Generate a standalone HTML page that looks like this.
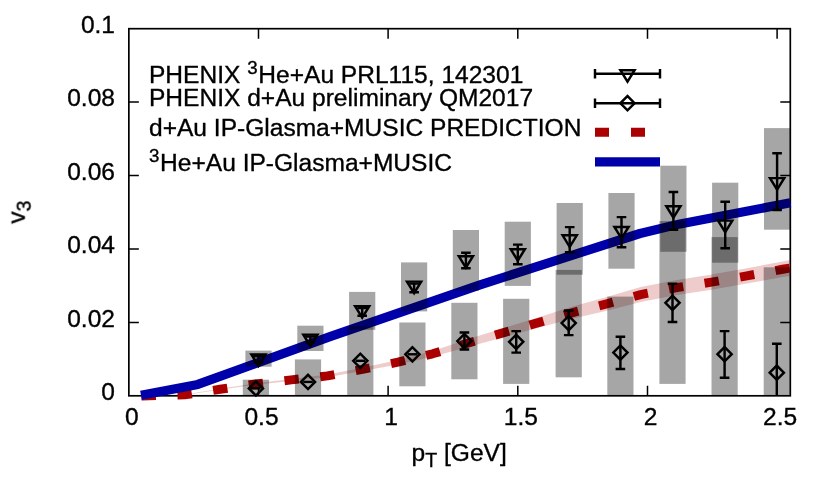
<!DOCTYPE html>
<html><head><meta charset="utf-8"><title>v3 vs pT</title>
<style>html,body{margin:0;padding:0;background:#fff}svg{display:block;will-change:transform}text{font-family:"Liberation Sans",sans-serif;fill:#000}</style></head>
<body>
<svg width="830" height="498" viewBox="0 0 830 498">
<rect width="830" height="498" fill="#fff"/>
<defs><clipPath id="c"><rect x="128.85" y="28.7" width="661.4499999999999" height="367.1"/></clipPath></defs>
<g stroke="#000" stroke-width="1.7" fill="none" stroke-linecap="butt">
<rect x="128.85" y="28.7" width="661.45" height="367.10"/>
<path stroke-width="1.5" d="M258.5,395.8 v-10 M258.5,28.7 v10 M388.1,395.8 v-10 M388.1,28.7 v10 M517.8,395.8 v-10 M517.8,28.7 v10 M647.5,395.8 v-10 M647.5,28.7 v10 M777.1,395.8 v-10 M777.1,28.7 v10 M128.85,322.4 h10 M790.3,322.4 h-10 M128.85,249.0 h10 M790.3,249.0 h-10 M128.85,175.5 h10 M790.3,175.5 h-10 M128.85,102.1 h10 M790.3,102.1 h-10"/>
</g>
<path d="M141.5,395.9 L184.6,394.5 L220.0,388.8 L255.6,383.3 L291.2,378.9 L327.4,374.6 L362.5,367.7 L398.0,360.0 L432.6,350.9 L467.7,339.3 L502.1,328.5 L536.6,317.9 L570.0,307.3 L605.8,297.3 L640.7,287.1 L675.5,280.3 L711.6,274.5 L746.8,268.2 L782.6,261.5 L790.3,260.1 L790.3,275.9 L782.6,277.1 L746.8,283.6 L711.6,289.7 L675.5,295.3 L640.7,302.1 L605.8,311.1 L570.0,319.3 L536.6,328.3 L502.1,337.7 L467.7,347.1 L432.6,356.7 L398.0,364.4 L362.5,370.9 L327.4,377.2 L291.2,380.9 L255.6,384.7 L220.0,389.8 L184.6,395.1 L141.5,396.1Z" fill="#aa0000" fill-opacity="0.2"/>
<path d="M141.5,396.0 L184.6,394.8 L220.0,389.3 L255.6,384.0 L291.2,379.9 L327.4,375.9 L362.5,369.3 L398.0,362.2 L432.6,353.8 L467.7,343.2 L502.1,333.1 L536.6,323.1 L570.0,313.3 L605.8,304.2 L640.7,294.6 L675.5,287.8 L711.6,282.1 L746.8,275.9 L782.6,269.3 L790.3,268.0" fill="none" stroke="#aa0000" stroke-width="9" stroke-dasharray="14.4 21.6" stroke-linejoin="round"/>
<path d="M141.0,395.3 L197.8,384.4 L330.0,336.7 L480.0,284.9 L640.0,233.5 L680.0,223.9 L790.4,202.8" fill="none" stroke="#0000aa" stroke-width="9.2" stroke-linejoin="round"/>
<g clip-path="url(#c)" fill="#000" fill-opacity="0.35">
<rect x="245.4" y="350.6" width="26.2" height="16.1"/>
<rect x="297.3" y="325.7" width="26.2" height="25.3"/>
<rect x="349.1" y="291.9" width="26.2" height="37.9"/>
<rect x="401.0" y="262.4" width="26.2" height="49.0"/>
<rect x="452.8" y="230.0" width="26.2" height="60.7"/>
<rect x="504.7" y="221.7" width="26.2" height="64.2"/>
<rect x="556.6" y="203.0" width="26.2" height="71.7"/>
<rect x="608.4" y="193.0" width="26.2" height="75.7"/>
<rect x="660.3" y="165.7" width="26.2" height="86.1"/>
<rect x="712.1" y="182.7" width="26.2" height="80.0"/>
<rect x="764.0" y="128.1" width="26.2" height="101.6"/>
<rect x="242.8" y="379.7" width="26.2" height="20.3"/>
<rect x="294.9" y="359.4" width="26.2" height="40.6"/>
<rect x="347.2" y="326.5" width="26.2" height="73.5"/>
<rect x="399.3" y="322.5" width="26.2" height="63.8"/>
<rect x="451.3" y="302.8" width="26.2" height="76.5"/>
<rect x="503.1" y="298.8" width="26.2" height="85.1"/>
<rect x="555.6" y="269.9" width="26.2" height="107.4"/>
<rect x="607.3" y="296.6" width="26.2" height="103.4"/>
<rect x="659.4" y="221.1" width="26.2" height="162.8"/>
<rect x="711.5" y="237.1" width="26.2" height="162.9"/>
<rect x="763.7" y="267.3" width="26.2" height="132.7"/>
</g>
<g stroke="#000" stroke-width="2.45" fill="none" stroke-linejoin="miter" stroke-miterlimit="10">
<g clip-path="url(#c)">
<path d="M258.5,356.3 V362.2 M253.7,356.3 H263.3 M253.7,362.2 H263.3"/>
<path d="M310.4,336.5 V342.3 M305.6,336.5 H315.2 M305.6,342.3 H315.2"/>
<path d="M362.2,307.9 V315.8 M357.4,307.9 H367.0 M357.4,315.8 H367.0"/>
<path d="M414.1,283.6 V292.3 M409.3,283.6 H418.9 M409.3,292.3 H418.9"/>
<path d="M465.9,252.7 V268.2 M461.1,252.7 H470.7 M461.1,268.2 H470.7"/>
<path d="M517.8,244.6 V264.3 M513.0,244.6 H522.6 M513.0,264.3 H522.6"/>
<path d="M569.7,227.1 V252.2 M564.9,227.1 H574.5 M564.9,252.2 H574.5"/>
<path d="M621.5,217.1 V247.2 M616.7,217.1 H626.3 M616.7,247.2 H626.3"/>
<path d="M673.4,191.9 V229.7 M668.6,191.9 H678.2 M668.6,229.7 H678.2"/>
<path d="M725.2,201.8 V248.2 M720.4,201.8 H730.0 M720.4,248.2 H730.0"/>
<path d="M777.1,153.2 V210.0 M772.3,153.2 H781.9 M772.3,210.0 H781.9"/>




<path d="M464.4,332.4 V349.5 M459.6,332.4 H469.2 M459.6,349.5 H469.2"/>
<path d="M516.2,331.1 V352.6 M511.4,331.1 H521.0 M511.4,352.6 H521.0"/>
<path d="M568.7,310.4 V335.1 M563.9,310.4 H573.5 M563.9,335.1 H573.5"/>
<path d="M620.4,336.7 V368.9 M615.6,336.7 H625.2 M615.6,368.9 H625.2"/>
<path d="M672.5,283.7 V322.0 M667.7,283.7 H677.3 M667.7,322.0 H677.3"/>
<path d="M724.6,331.1 V377.7 M719.8,331.1 H729.4 M719.8,377.7 H729.4"/>
<path d="M776.8,343.8 V402.0 M772.0,343.8 H781.6 M772.0,402.0 H781.6"/>
</g>
<path d="M251.4,354.4 L265.6,354.4 L258.5,366.0Z"/>
<path d="M303.3,334.6 L317.5,334.6 L310.4,346.2Z"/>
<path d="M355.1,306.1 L369.3,306.1 L362.2,317.6Z"/>
<path d="M407.0,281.6 L421.2,281.6 L414.1,293.2Z"/>
<path d="M458.8,256.2 L473.0,256.2 L465.9,267.7Z"/>
<path d="M510.7,249.2 L524.9,249.2 L517.8,260.7Z"/>
<path d="M562.6,235.3 L576.8,235.3 L569.7,246.8Z"/>
<path d="M614.4,227.0 L628.6,227.0 L621.5,238.5Z"/>
<path d="M666.3,206.2 L680.5,206.2 L673.4,217.7Z"/>
<path d="M718.1,220.6 L732.3,220.6 L725.2,232.1Z"/>
<path d="M770.0,178.1 L784.2,178.1 L777.1,189.6Z"/>
<path d="M248.8,388.4 L255.9,381.3 L263.0,388.4 L255.9,395.5Z"/>
<path d="M251.1,388.4 h9.6"/>
<path d="M300.9,381.9 L308.0,374.8 L315.1,381.9 L308.0,389.0Z"/>
<path d="M303.2,381.9 h9.6"/>
<path d="M353.2,360.8 L360.3,353.7 L367.4,360.8 L360.3,367.9Z"/>
<path d="M355.5,360.8 h9.6"/>
<path d="M405.3,354.3 L412.4,347.2 L419.5,354.3 L412.4,361.4Z"/>
<path d="M407.6,354.3 h9.6"/>
<path d="M457.3,341.1 L464.4,334.0 L471.5,341.1 L464.4,348.2Z"/>
<path d="M509.1,341.8 L516.2,334.7 L523.3,341.8 L516.2,348.9Z"/>
<path d="M561.6,323.1 L568.7,316.0 L575.8,323.1 L568.7,330.2Z"/>
<path d="M613.3,352.6 L620.4,345.5 L627.5,352.6 L620.4,359.7Z"/>
<path d="M665.4,302.8 L672.5,295.7 L679.6,302.8 L672.5,309.9Z"/>
<path d="M717.5,354.2 L724.6,347.1 L731.7,354.2 L724.6,361.3Z"/>
<path d="M769.7,372.7 L776.8,365.6 L783.9,372.7 L776.8,379.8Z"/>
<path d="M595,73.7 H660 M595,68.9 v9.6 M660,68.9 v9.6"/><path d="M620.4,70.2 L634.6,70.2 L627.5,81.7Z"/>
<path d="M595,103.2 H660 M595,98.4 v9.6 M660,98.4 v9.6"/><path d="M620.4,103.2 L627.5,96.1 L634.6,103.2 L627.5,110.3Z"/>
</g>
<path d="M595,132.3 H660" fill="none" stroke="#aa0000" stroke-width="9" stroke-dasharray="14 22"/>
<path d="M595,161.8 H660" fill="none" stroke="#0000aa" stroke-width="9.2"/>
<g font-size="24.55" style="filter:grayscale(1)" stroke="#000" stroke-width="0.35">
<text x="115" y="400.0" text-anchor="end">0</text>
<text x="115" y="326.6" text-anchor="end">0.02</text>
<text x="115" y="253.2" text-anchor="end">0.04</text>
<text x="115" y="179.7" text-anchor="end">0.06</text>
<text x="115" y="106.3" text-anchor="end">0.08</text>
<text x="115" y="32.9" text-anchor="end">0.1</text>
<text x="131.8" y="425.2" text-anchor="middle">0</text>
<text x="261.5" y="425.2" text-anchor="middle">0.5</text>
<text x="391.1" y="425.2" text-anchor="middle">1</text>
<text x="520.8" y="425.2" text-anchor="middle">1.5</text>
<text x="650.5" y="425.2" text-anchor="middle">2</text>
<text x="780.1" y="425.2" text-anchor="middle">2.5</text>
<text x="149.0" y="83.2">PHENIX <tspan font-size="18.7" dy="-9.4">3</tspan><tspan dy="9.4" dx="0.7">He+Au PRL115, 142301</tspan></text>
<text x="149.0" y="106.4">PHENIX d+Au preliminary QM2017</text>
<text x="149.0" y="136.2">d+Au IP-Glasma+MUSIC PREDICTION</text>
<text x="149.0" y="171.3"><tspan font-size="18.7" dy="-9.4">3</tspan><tspan dy="9.4" dx="0.7">He+Au IP-Glasma+MUSIC</tspan></text>
<text x="459.2" y="461.2" text-anchor="middle">p<tspan font-size="19.5" dy="5.6">T</tspan><tspan dy="-5.6"> [GeV]</tspan></text>
<text transform="translate(24.7,212.2) rotate(-90)" text-anchor="middle">v<tspan font-size="19.5" dy="6">3</tspan></text>
</g>
</svg>
</body></html>
